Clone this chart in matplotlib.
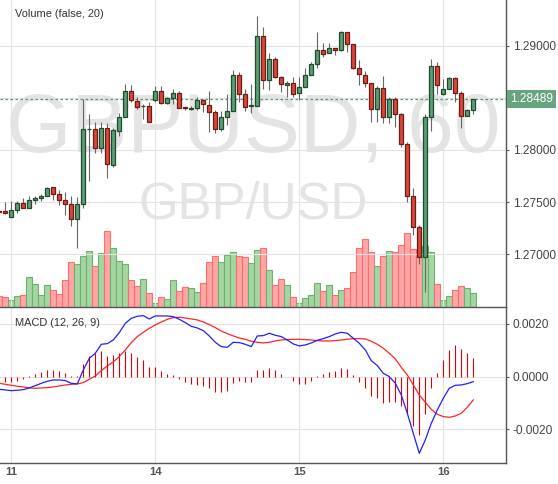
import matplotlib
matplotlib.use("Agg")
import matplotlib.pyplot as plt
import matplotlib.transforms as mtransforms

plt.rcParams['font.family'] = ['Liberation Sans', 'DejaVu Sans']

# GBPUSD hourly bars (first bar is cut by the left edge)
opens = [1.27416, 1.27412, 1.27360, 1.27421, 1.27489, 1.27446, 1.27517, 1.27536, 1.27556, 1.27642,
         1.27575, 1.27517, 1.27479, 1.27335, 1.27479, 1.28198, 1.28198, 1.28016, 1.28208, 1.27856,
         1.28185, 1.28313, 1.28563, 1.28473, 1.28418, 1.28422, 1.28479, 1.28563, 1.28448, 1.28496,
         1.28544, 1.28410, 1.28397, 1.28400, 1.28476, 1.28428, 1.28361, 1.28198, 1.28313, 1.28377,
         1.28716, 1.28534, 1.28421, 1.28425, 1.29090, 1.28668, 1.28870, 1.28697, 1.28620, 1.28639,
         1.28544, 1.28607, 1.28716, 1.28822, 1.28956, 1.28927, 1.28975, 1.28959, 1.29129, 1.29013,
         1.28789, 1.28716, 1.28639, 1.28390, 1.28591, 1.28319, 1.28492, 1.28342, 1.28054, 1.27561,
         1.27258, 1.26971, 1.28313, 1.28802, 1.28534, 1.28582, 1.28687, 1.28544, 1.28329, 1.28380]
highs = [1.27418, 1.27501, 1.27508, 1.27514, 1.27542, 1.27556, 1.27556, 1.27578, 1.27645, 1.27645,
         1.27616, 1.27597, 1.27559, 1.27549, 1.28486, 1.28345, 1.28265, 1.28265, 1.28256, 1.28211,
         1.28352, 1.28637, 1.28626, 1.28505, 1.28441, 1.28460, 1.28614, 1.28614, 1.28511, 1.28588,
         1.28568, 1.28412, 1.28422, 1.28511, 1.28492, 1.28568, 1.28383, 1.28371, 1.28537, 1.28767,
         1.28748, 1.28582, 1.28633, 1.29285, 1.29182, 1.28927, 1.28895, 1.28705, 1.28659, 1.28697,
         1.28697, 1.28786, 1.28844, 1.29131, 1.29023, 1.29029, 1.28980, 1.29138, 1.29135, 1.29020,
         1.28863, 1.28757, 1.28645, 1.28614, 1.28709, 1.28508, 1.28505, 1.28357, 1.28076, 1.27632,
         1.27281, 1.28342, 1.28870, 1.28844, 1.28678, 1.28697, 1.28697, 1.28566, 1.28396, 1.28479]
lows = [1.27404, 1.27386, 1.27354, 1.27398, 1.27443, 1.27446, 1.27485, 1.27508, 1.27556, 1.27523,
        1.27475, 1.27376, 1.27274, 1.27063, 1.27446, 1.27705, 1.27971, 1.27969, 1.27728, 1.27840,
        1.28134, 1.28313, 1.28463, 1.28396, 1.28294, 1.28271, 1.28463, 1.28441, 1.28441, 1.28441,
        1.28403, 1.28383, 1.28383, 1.28383, 1.28367, 1.28175, 1.28160, 1.28185, 1.28242, 1.28377,
        1.28463, 1.28377, 1.28357, 1.28425, 1.28588, 1.28575, 1.28690, 1.28556, 1.28505, 1.28511,
        1.28479, 1.28607, 1.28716, 1.28783, 1.28895, 1.28927, 1.28911, 1.28952, 1.28942, 1.28777,
        1.28623, 1.28607, 1.28271, 1.28271, 1.28256, 1.28256, 1.28223, 1.28031, 1.27504, 1.27189,
        1.26911, 1.26641, 1.28185, 1.28534, 1.28527, 1.28582, 1.28463, 1.28214, 1.28329, 1.28345]
closes = [1.27408, 1.27393, 1.27421, 1.27489, 1.27446, 1.27517, 1.27539, 1.27559, 1.27632, 1.27575,
          1.27517, 1.27479, 1.27335, 1.27479, 1.28198, 1.28202, 1.28016, 1.28208, 1.27863, 1.28189,
          1.28313, 1.28563, 1.28479, 1.28415, 1.28425, 1.28271, 1.28563, 1.28448, 1.28496, 1.28544,
          1.28405, 1.28400, 1.28402, 1.28476, 1.28438, 1.28361, 1.28198, 1.28313, 1.28377, 1.28716,
          1.28534, 1.28415, 1.28427, 1.29090, 1.28668, 1.28870, 1.28697, 1.28630, 1.28639, 1.28534,
          1.28601, 1.28716, 1.28822, 1.28956, 1.28918, 1.28975, 1.28959, 1.29129, 1.29013, 1.28789,
          1.28726, 1.28639, 1.28390, 1.28591, 1.28319, 1.28492, 1.28342, 1.28057, 1.27561, 1.27258,
          1.26976, 1.28313, 1.28802, 1.28620, 1.28582, 1.28687, 1.28544, 1.28329, 1.28380, 1.28489]
volumes = [11, 10, 7, 11, 12, 30, 23, 12, 22, 17, 13, 27, 45, 43, 51, 56, 41, 54, 76, 59,
           46, 43, 27, 21, 28, 14, 4, 10, 8, 27, 16, 20, 19, 15, 24, 45, 51, 45, 52, 55,
           51, 50, 44, 57, 59, 37, 22, 28, 22, 10, 4, 9, 12, 24, 16, 22, 12, 17, 19, 35,
           59, 68, 55, 41, 51, 56, 55, 62, 74, 58, 51, 61, 55, 23, 7, 11, 17, 21, 19, 14]

macd_line = [-0.000481, -0.000506, -0.000532, -0.000519, -0.000494, -0.000430, -0.000342, -0.000253, -0.000177, -0.000127,
             -0.000127, -0.000152, -0.000253, -0.000278, 0.000253, 0.000696, 0.000886, 0.001228, 0.001253, 0.001392,
             0.001671, 0.002025, 0.002215, 0.002291, 0.002316, 0.002190, 0.002304, 0.002304, 0.002304, 0.002278,
             0.002177, 0.002051, 0.001911, 0.001848, 0.001747, 0.001544, 0.001304, 0.001139, 0.001114, 0.001304,
             0.001291, 0.001228, 0.001139, 0.001544, 0.001557, 0.001646, 0.001570, 0.001519, 0.001392, 0.001241,
             0.001165, 0.001203, 0.001278, 0.001380, 0.001443, 0.001519, 0.001620, 0.001684, 0.001646, 0.001456,
             0.001266, 0.001013, 0.000608, 0.000418, 0.000127, 0.000000, -0.000253, -0.000696, -0.001392, -0.002152,
             -0.002911, -0.002405, -0.001772, -0.001266, -0.000823, -0.000443, -0.000329, -0.000316, -0.000266, -0.000190]
signal_line = [-0.000253, -0.000291, -0.000329, -0.000367, -0.000392, -0.000430, -0.000443, -0.000430, -0.000418, -0.000392,
               -0.000354, -0.000316, -0.000291, -0.000278, -0.000228, -0.000101, 0.000025, 0.000228, 0.000405, 0.000557,
               0.000759, 0.001013, 0.001291, 0.001519, 0.001684, 0.001835, 0.001962, 0.002076, 0.002177, 0.002241,
               0.002253, 0.002228, 0.002190, 0.002152, 0.002076, 0.001975, 0.001861, 0.001734, 0.001633, 0.001544,
               0.001468, 0.001418, 0.001342, 0.001304, 0.001278, 0.001304, 0.001354, 0.001392, 0.001405, 0.001418,
               0.001418, 0.001405, 0.001392, 0.001367, 0.001354, 0.001354, 0.001367, 0.001392, 0.001418, 0.001443,
               0.001443, 0.001430, 0.001342, 0.001228, 0.001076, 0.000886, 0.000671, 0.000354, 0.000063, -0.000316,
               -0.000696, -0.000975, -0.001241, -0.001430, -0.001519, -0.001544, -0.001494, -0.001392, -0.001165, -0.000886]
macd_hist = [-0.000228, -0.000216, -0.000216, -0.000152, -0.000103, 0.00001, 0.000103, 0.000178, 0.000254, 0.000254,
             0.000216, 0.000141, 0.00002, 0.00001, 0.000482, 0.000771, 0.000885, 0.000961, 0.000786, 0.000824,
             0.000885, 0.000961, 0.000900, 0.000760, 0.000634, 0.000368, 0.000368, 0.000216, 0.000087, 0.000049,
             -0.000087, -0.000201, -0.000277, -0.000315, -0.000342, -0.000429, -0.000570, -0.000570, -0.000532, -0.000239,
             -0.000152, -0.000201, -0.000201, 0.000266, 0.000266, 0.000330, 0.000266, 0.000103, -0.00001, -0.000152,
             -0.000266, -0.000266, -0.000152, 0.00001, 0.000103, 0.000178, 0.000216, 0.000330, 0.000292, 0.000065,
             -0.000190, -0.000418, -0.000722, -0.000797, -0.000987, -0.000949, -0.000949, -0.001101, -0.001367, -0.001861,
             -0.002214, -0.001405, -0.000418, 0.000152, 0.000634, 0.001014, 0.001204, 0.001052, 0.000900, 0.000710]

day_pos = [2, 26, 50, 74]          # bar index where each day starts
day_labels = ["11", "14", "15", "16"]
price_ticks = [1.27, 1.275, 1.28, 1.285, 1.29]
macd_ticks = [-0.002, 0.0, 0.002]
last_price = 1.28489

GREEN, GREEN_EDGE = '#5c9e76', '#1f4a2e'
RED, RED_EDGE = '#d8473a', '#6b1c14'
VOL_GREEN, VOL_GREEN_EDGE = '#a7d4a3', '#68b46a'
VOL_RED, VOL_RED_EDGE = '#ffa7a7', '#ff6c6c'
AXIS = '#555555'
GRID = '#e3e3e3'

idx = list(range(len(opens)))
up = [c >= o for o, c in zip(opens, closes)]

fig = plt.figure(figsize=(5.58, 4.84), dpi=100)
ax = fig.add_axes([0, 0.3651, 0.9068, 0.6349])
ax2 = fig.add_axes([0, 0.0428, 0.9068, 0.3223], sharex=ax)

# volume overlay sits behind the price axes
vol = ax.twinx()
ax.set_zorder(2)
vol.set_zorder(1)
ax.patch.set_visible(False)
vol.bar(idx, volumes, width=1.0,
        color=[VOL_GREEN if u else VOL_RED for u in up],
        edgecolor=[VOL_GREEN_EDGE if u else VOL_RED_EDGE for u in up], linewidth=0.8)
vol.set_ylim(0, 307.3)
vol.set_yticks([])
for s in vol.spines.values():
    s.set_visible(False)

# watermark
vol.text(0.5, 0.5064, 'GBPUSD, 60', transform=vol.transAxes, ha='center', va='baseline',
         fontsize=60.5, color='#e4e4e4', zorder=0)
vol.text(0.5, 0.2896, 'GBP/USD', transform=vol.transAxes, ha='center', va='baseline',
         fontsize=36.7, color='#e4e4e4', zorder=0)

# candles
ax.vlines(idx, lows, highs, color='#666666', linewidth=0.8, zorder=3)
bottoms = [min(o, c) for o, c in zip(opens, closes)]
heights = [max(abs(c - o), 0.00002) for o, c in zip(opens, closes)]
ax.bar(idx, heights, bottom=bottoms, width=0.68,
       color=[GREEN if u else RED for u in up],
       edgecolor=[GREEN_EDGE if u else RED_EDGE for u in up], linewidth=0.9, zorder=4)
ax.axhline(last_price, color='#4f9d6d', linewidth=0.9, linestyle=(0, (2, 2)), zorder=2)

ax.set_xlim(0.117, 84.45)
ax.set_ylim(1.264918, 1.294382)
ax.set_xticks(day_pos)
ax.set_yticks(price_ticks)
ax.set_yticklabels(['' if abs(t - 1.285) < 1e-9 else f'{t:.5f}' for t in price_ticks])
ax.yaxis.tick_right()
ax.tick_params(axis='x', length=0, labelbottom=False)
ax.tick_params(axis='y', length=2.2, width=0.8, color=AXIS, pad=2.6, labelsize=8.6, labelcolor='#444444')
ax.grid(True, color=GRID, linewidth=0.8)
for side in ['top', 'left']:
    ax.spines[side].set_visible(False)
for side in ['right', 'bottom']:
    ax.spines[side].set_color(AXIS)
    ax.spines[side].set_linewidth(1.0)

tr = mtransforms.blended_transform_factory(ax.transAxes, ax.transData)
ax.text(1.0 + 4 / 506, last_price, f'{last_price:.5f}', transform=tr, ha='left', va='center',
        fontsize=8.6, color='white', clip_on=False, zorder=10,
        bbox=dict(boxstyle='square,pad=0.28', fc='#67a57f', ec='none'))
ax.text(15 / 506, 1 - 14.3 / 307.3, 'Volume (false, 20)', transform=ax.transAxes,
        ha='left', va='center', fontsize=7.9, color='#333333', zorder=10)

# MACD panel
ax2.vlines(idx, 0, macd_hist, color='#e00000', linewidth=0.8, zorder=3)
ax2.plot(idx, signal_line, color='#ff2424', linewidth=0.9, zorder=4)
ax2.plot(idx, macd_line, color='#2020ff', linewidth=0.9, zorder=5)
ax2.set_ylim(-0.003291, 0.002633)
ax2.set_yticks(macd_ticks)
ax2.set_yticklabels([f'{t:.4f}' for t in macd_ticks])
ax2.yaxis.tick_right()
ax2.set_xticks(day_pos)
ax2.set_xticklabels(day_labels, fontweight='bold')
ax2.tick_params(axis='x', length=0, pad=2.5, labelsize=8.2, labelcolor='#555555')
ax2.tick_params(axis='y', length=2.2, width=0.8, color=AXIS, pad=2.6, labelsize=8.6, labelcolor='#444444')
ax2.grid(True, color=GRID, linewidth=0.8)
ax2.set_axisbelow(True)
for side in ['top', 'left']:
    ax2.spines[side].set_visible(False)
for side in ['right', 'bottom']:
    ax2.spines[side].set_color(AXIS)
    ax2.spines[side].set_linewidth(1.0)
ax2.text(15 / 506, 0.901, 'MACD (12, 26, 9)', transform=ax2.transAxes,
         ha='left', va='center', fontsize=7.9, color='#333333', zorder=10)

fig.savefig('out.png', dpi=100)
